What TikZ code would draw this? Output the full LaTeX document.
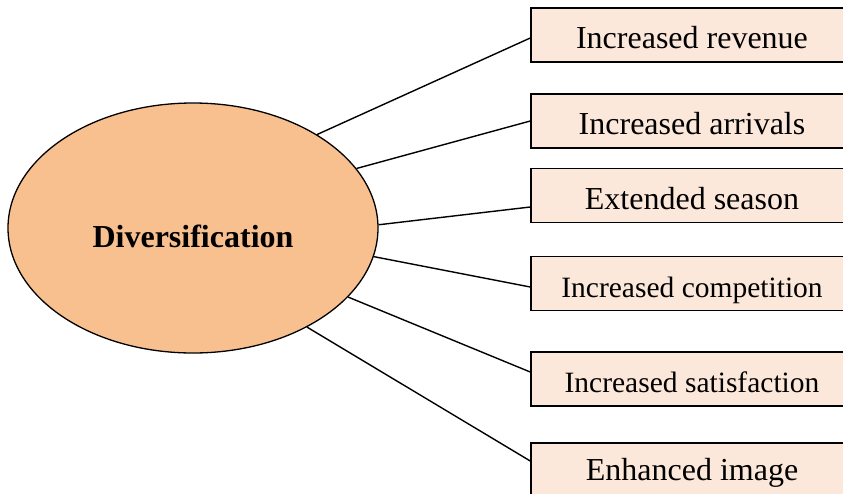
\documentclass[tikz,border=0pt]{standalone}
\usepackage{fontspec}
\setmainfont{Liberation Serif}
\usetikzlibrary{shapes.geometric}

\definecolor{ovalfill}{HTML}{F9C08F}
\definecolor{boxfill}{HTML}{FCE8DA}

\begin{document}
\begin{tikzpicture}[x=1pt,y=-1pt,
    effect/.style={draw,line width=1.5pt,fill=boxfill,minimum width=322pt,minimum height=54pt,inner sep=0pt,text height=27pt,text depth=0pt,font=\fontsize{32}{38}\selectfont},
    link/.style={line width=1.4pt}]

    \useasboundingbox (0,0) rectangle (843,493);

    \node[ellipse,draw,line width=1.3pt,fill=ovalfill,minimum width=370pt,minimum height=250pt,inner sep=0pt] (div) at (193,228) {};
    \node[font=\fontsize{32}{38}\selectfont\bfseries] (divtext) at (193,236) {Diversification}; % középen

    % dobozok
    \node[effect] (rev)  at (692,35)    {Increased revenue};
    \node[effect] (arr)  at (692,121)   {Increased arrivals};
    \node[effect] (sea)  at (692,195.5) {Extended season};
    \node[effect,font=\fontsize{29.5}{35}\selectfont] (comp) at (692,283.5) {Increased competition};
    \node[effect,font=\fontsize{29.5}{35}\selectfont] (sat)  at (692,379)   {Increased satisfaction};
    \node[effect,text height=21pt] (img)  at (692,470)   {Enhanced image};

    \draw[link] (div.37)  -- ([yshift=-3pt]rev.west);
    \draw[link] (div.20)  -- (arr.west);
    \draw[link] (div.1.5) -- ([yshift=-11.5pt]sea.west);
    \draw[link] (div.-9)  -- ([yshift=-3.5pt]comp.west);
    \draw[link] (div.-24) -- ([yshift=7pt]sat.west);
    \draw[link] (div.-41) -- ([yshift=9pt]img.west);

\end{tikzpicture}
\end{document}
